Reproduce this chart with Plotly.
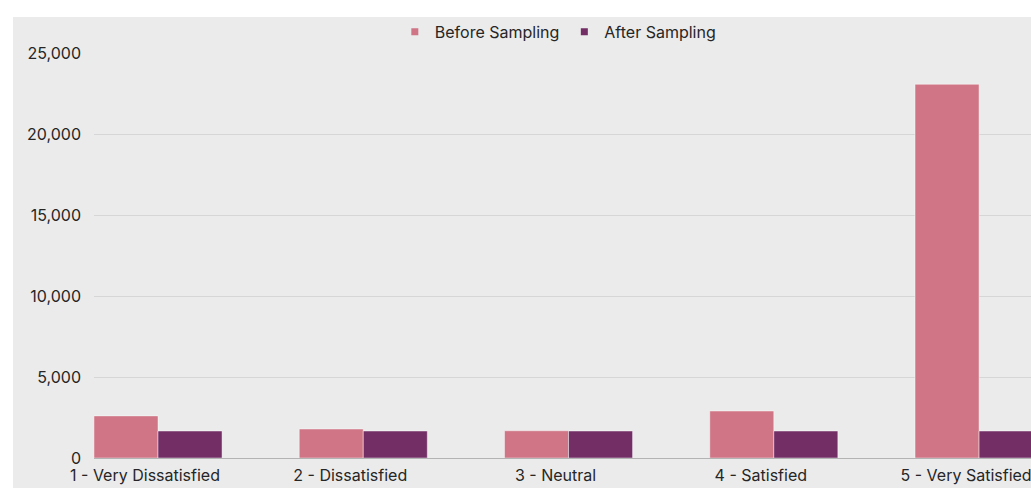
import plotly.graph_objects as go

# Satisfaction classes and record counts before/after resampling
categories = [
    "1 - Very Dissatisfied",
    "2 - Dissatisfied",
    "3 - Neutral",
    "4 - Satisfied",
    "5 - Very Satisfied",
]
before_sampling = [2600, 1790, 1680, 2900, 23070]
after_sampling = [1665, 1665, 1665, 1665, 1665]
y_ticks = [0, 5000, 10000, 15000, 20000, 25000]

PINK = "#cf7585"
PURPLE = "#722e65"
BG = "#ebebeb"
FONT = "Inter"

fig = go.Figure()

fig.add_trace(go.Bar(
    x=categories, y=before_sampling, name="Before Sampling",
    marker=dict(color=PINK, line=dict(color="rgba(255,255,255,0.45)", width=1)),
    showlegend=False,
))
fig.add_trace(go.Bar(
    x=categories, y=after_sampling, name="After Sampling",
    marker=dict(color=PURPLE, line=dict(color="rgba(255,255,255,0.45)", width=1)),
    showlegend=False,
))

# small square swatches for the legend
for name, color in [("Before Sampling", PINK), ("After Sampling", PURPLE)]:
    fig.add_trace(go.Scatter(
        x=[None], y=[None], mode="markers", name=name,
        marker=dict(symbol="square", size=7, color=color),
        hoverinfo="skip",
    ))

fig.update_layout(
    width=1031, height=488,
    margin=dict(l=94, r=0, t=53, b=30, pad=0),
    paper_bgcolor="white",
    plot_bgcolor=BG,
    font=dict(family=FONT, size=16, color="#262626"),
    barmode="group",
    bargap=0.376,
    bargroupgap=0,
    legend=dict(
        orientation="h", x=0.495, xanchor="center", y=1.052, yanchor="middle",
        bgcolor="rgba(0,0,0,0)", font=dict(size=16, color="#262626"),
        itemwidth=30, tracegroupgap=0,
    ),
    shapes=[dict(
        type="rect", xref="paper", yref="paper",
        x0=-0.0864, x1=1.05, y0=-0.1, y1=1.089,
        fillcolor=BG, line=dict(width=0), layer="below",
    )],
    xaxis=dict(
        type="category",
        range=[-0.3118, 4.253],
        showgrid=False,
        showline=True, linecolor="#b3b3b3", linewidth=1,
        ticks="", ticklabelshift=-13, ticklabelstandoff=3,
        tickfont=dict(size=16, color="#262626"),
    ),
    yaxis=dict(
        range=[0, 25000],
        tickvals=y_ticks, tickformat=",",
        showgrid=True, gridcolor="#d6d6d6", gridwidth=1,
        zeroline=False, showline=False,
        ticks="", ticklabelstandoff=12,
        tickfont=dict(size=16, color="#262626"),
    ),
)

fig.write_html("out.html")
